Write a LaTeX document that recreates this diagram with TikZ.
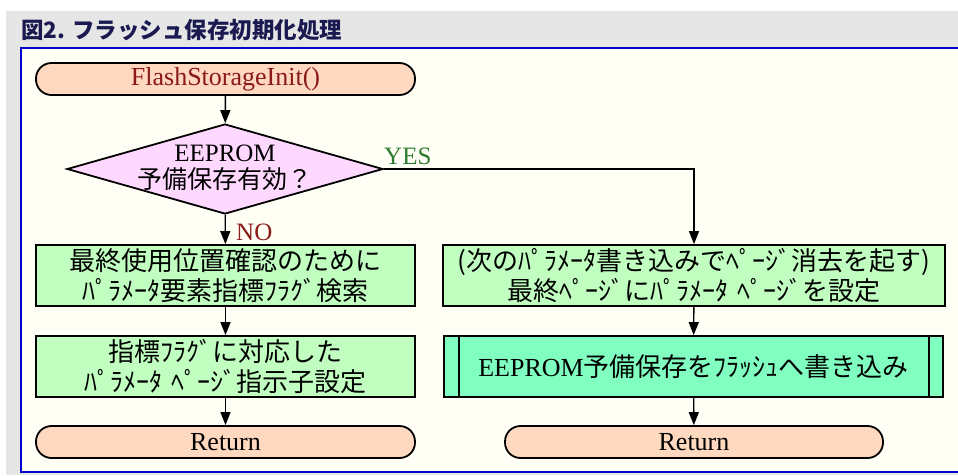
\documentclass[tikz,border=0pt]{standalone}
\usepackage{fontspec}
\setmainfont{Liberation Serif}
\newfontfamily\jp{Noto Sans CJK JP}
\usetikzlibrary{shapes.geometric,arrows.meta}
\definecolor{bggray}{HTML}{E6E6E6}
\definecolor{panel}{HTML}{FFFFF6}
\definecolor{frameblue}{HTML}{0000CC}
\definecolor{peach}{HTML}{FFD8C0}
\definecolor{pinkd}{HTML}{FFD8FF}
\definecolor{lgreen}{HTML}{C0FFC0}
\definecolor{agreen}{HTML}{80FFC0}
\definecolor{titleblue}{HTML}{1A1A50}
\definecolor{dred}{HTML}{8B1A1A}
\definecolor{ygreen}{HTML}{2E7D2E}
\tikzset{
  term/.style={draw=black, line width=1.8pt, fill=peach, rounded corners=15.5pt,
    minimum width=379pt, minimum height=32pt, inner sep=0pt,
    font=\fontsize{26}{30}\selectfont},
  procbox/.style={draw=black, line width=1.8pt, fill=lgreen, minimum height=61pt,
    inner sep=0pt, align=center, font=\fontsize{26}{30}\selectfont\jp},
  predef/.style={draw=black, line width=1.8pt, fill=agreen, minimum height=61pt,
    inner sep=0pt, align=center, font=\fontsize{26}{30}\selectfont},
  decis/.style={diamond, draw=black, line width=1.8pt, fill=pinkd, inner sep=0pt,
    minimum width=316pt, minimum height=90pt},
  conn/.style={line width=1.4pt, -{Triangle[length=13pt,width=10pt]}},
  lbl/.style={font=\fontsize{25}{28}\selectfont, inner sep=0pt}
}
\newcommand{\hsp}{\hspace{0.35em}}
\begin{document}
\begin{tikzpicture}[x=1pt,y=-1pt]
\useasboundingbox (0,0) rectangle (958,475);
\fill[white] (0,0) rectangle (958,475);
\fill[bggray] (6,11) rectangle (958,475);
\fill[panel] (21,48) rectangle (958,472);
\draw[frameblue, line width=2pt] (958,48) -- (21,48) -- (21,472) -- (958,472);
\node[anchor=west, text=titleblue, inner sep=0pt, font=\fontsize{22.5}{24}\selectfont\jp\bfseries] (title) at (21,30) {図2. フラッシュ保存初期化処理};

\node[term, text=dred] (start) at (225.5,79) {FlashStorageInit()};
\node[decis] (dec) at (225,169) {};
\node[align=center, inner sep=0pt, font=\fontsize{25}{27}\selectfont] (dectext) at (225,168) {EEPROM\\{\jp 予備保存有効？}};
\node[procbox, minimum width=379pt] (b1) at (225.5,275.5) {最終使用位置確認のために\\ﾊﾟﾗﾒｰﾀ要素指標ﾌﾗｸﾞ検索};
\node[procbox, minimum width=379pt] (b2) at (225.5,366.5) {指標ﾌﾗｸﾞに対応した\\ﾊﾟﾗﾒｰﾀ\hsp ﾍﾟｰｼﾞ指示子設定};
\node[term] (ret1) at (225.5,442) {Return};

\node[procbox, minimum width=502pt] (c1) at (694,275.5) {(次のﾊﾟﾗﾒｰﾀ書き込みでﾍﾟｰｼﾞ消去を起す)\\最終ﾍﾟｰｼﾞにﾊﾟﾗﾒｰﾀ\hsp ﾍﾟｰｼﾞを設定};
\node[predef, minimum width=499pt] (c2) at (693.5,366.5) {EEPROM{\jp 予備保存をﾌﾗｯｼｭへ書き込み}};
\draw[line width=1.8pt] ([xshift=16pt]c2.north west) -- ([xshift=16pt]c2.south west);
\draw[line width=1.8pt] ([xshift=-15pt]c2.north east) -- ([xshift=-15pt]c2.south east);
\node[term, minimum width=378pt] (ret2) at (694,442) {Return};

\coordinate (yc) at (694,169);
\draw[conn] (start) -- (dec);
\draw[conn] (dec) -- (b1);
\draw[conn] (b1) -- (b2);
\draw[conn] (b2) -- (ret1);
\draw[conn] (dec.east) -- (yc) -- (c1.north);
\draw[conn] (c1) -- (c2);
\draw[conn] (c2) -- (ret2);
\node[lbl, text=ygreen, anchor=south west] (yes) at (384,165) {YES};
\node[lbl, text=dred, anchor=west] (no) at (236,232) {NO};
\end{tikzpicture}
\end{document}
